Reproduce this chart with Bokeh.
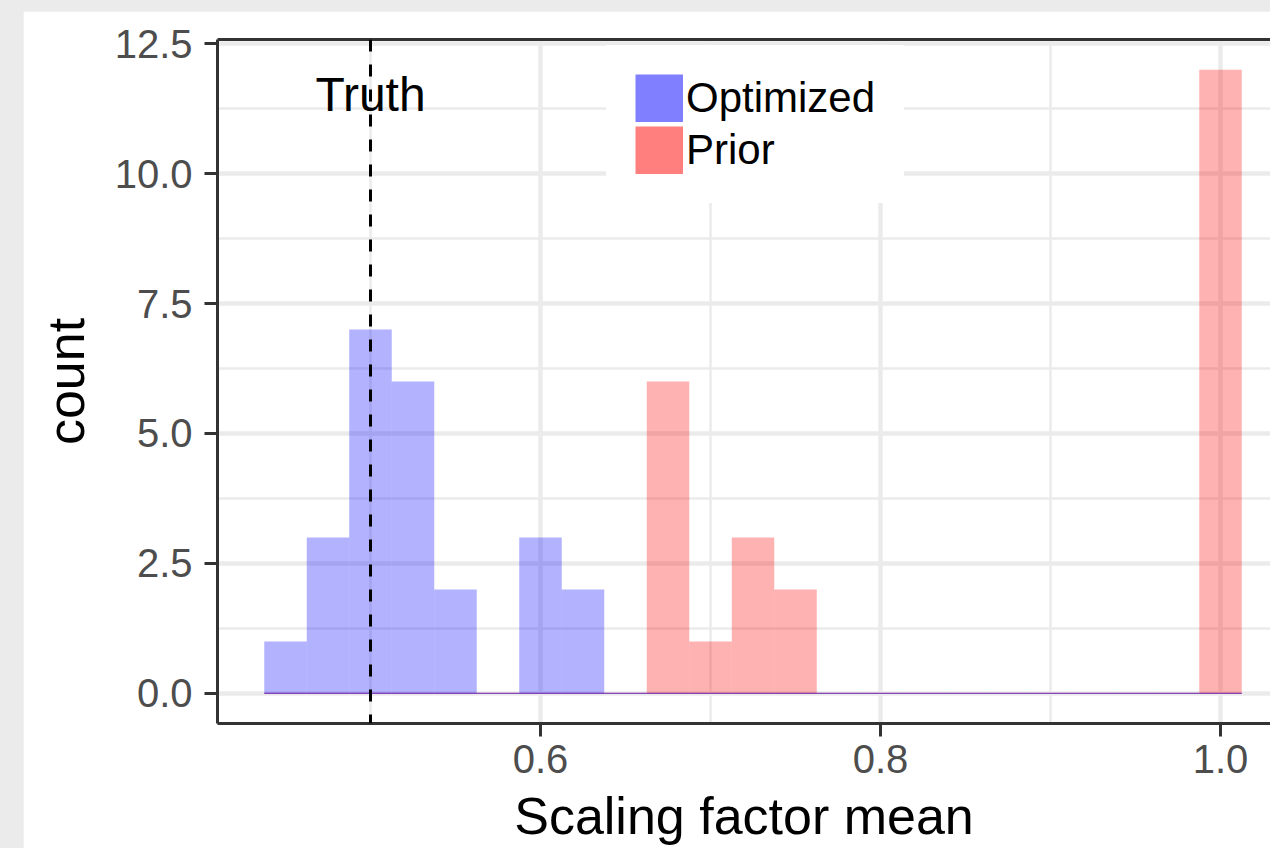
from bokeh.plotting import figure
from bokeh.models import (Range1d, LinearAxis, SingleIntervalTicker, FixedTicker,
                          PrintfTickFormatter, Span, Legend, LegendItem,
                          ColumnDataSource, Spacer)
from bokeh.layouts import row, column
from bokeh.embed import file_html
from bokeh.resources import INLINE
from bokeh.core.properties import value

# ---------------- data ----------------
bin_centers = [0.45, 0.475, 0.5, 0.525, 0.55, 0.575, 0.6, 0.625, 0.65, 0.675,
               0.7, 0.725, 0.75, 0.775, 0.8, 0.825, 0.85, 0.875, 0.9, 0.925,
               0.95, 0.975, 1.0]
optimized_counts = [1, 3, 7, 6, 2, 0, 3, 2, 0, 0, 0, 0, 0, 0, 0, 0, 0, 0, 0, 0, 0, 0, 0]
prior_counts = [0, 0, 0, 0, 0, 0, 0, 0, 0, 6, 1, 3, 2, 0, 0, 0, 0, 0, 0, 0, 0, 0, 12]
bin_width = 0.025
series_names = ["Optimized", "Prior"]
series_colors = ["#0000FF", "#FF0000"]
truth_value = 0.5
truth_label = "Truth"
truth_label_y = 11.52
x_title = "Scaling factor mean"
y_title = "count"

FONT = "Liberation Sans"
NAN = float("nan")

lefts = [c - bin_width / 2 for c in bin_centers]
rights = [c + bin_width / 2 for c in bin_centers]

p = figure(width=1247, height=837, output_backend="svg", toolbar_location=None,
           x_range=Range1d(0.41, 1.0294), y_range=Range1d(-0.58, 12.58),
           min_border_left=194, min_border_right=0, min_border_top=28,
           min_border_bottom=125)
p.background_fill_color = "white"
p.border_fill_color = "white"
p.outline_line_color = None

# axes
p.xaxis.ticker = SingleIntervalTicker(interval=0.2, num_minor_ticks=2)
p.yaxis.ticker = SingleIntervalTicker(interval=2.5, num_minor_ticks=2)
for ax in (p.xaxis[0], p.yaxis[0]):
    ax.formatter = PrintfTickFormatter(format="%.1f")
    ax.axis_line_color = "#333333"
    ax.axis_line_width = 3
    ax.major_tick_line_color = "#333333"
    ax.major_tick_line_width = 3
    ax.major_tick_out = 13
    ax.major_tick_in = 0
    ax.minor_tick_line_color = None
    ax.major_label_text_font = FONT
    ax.major_label_text_font_size = "40px"
    ax.major_label_text_color = "#4D4D4D"
    ax.axis_label_text_font = FONT
    ax.axis_label_text_font_size = "52px"
    ax.axis_label_text_font_style = "normal"
    ax.axis_label_text_color = "black"
p.xaxis.axis_label = x_title
p.yaxis.axis_label = y_title
p.xaxis.major_label_standoff = 8
p.xaxis.axis_label_standoff = 11
p.yaxis.major_label_standoff = 12
p.yaxis.axis_label_standoff = 17

top_axis = LinearAxis(ticker=FixedTicker(ticks=[]), axis_line_color="#333333",
                      axis_line_width=3, major_tick_line_color=None,
                      minor_tick_line_color=None, major_label_text_font_size="0px")
p.add_layout(top_axis, "above")

# grid
for g in (p.xgrid[0], p.ygrid[0]):
    g.grid_line_color = "#EBEBEB"
    g.grid_line_width = 4.5
    g.minor_grid_line_color = "#EBEBEB"
    g.minor_grid_line_width = 2.5

# bars
sources = []
for counts, color in zip([optimized_counts, prior_counts], series_colors):
    src = ColumnDataSource(dict(left=lefts, right=rights, top=counts,
                                bottom=[0] * len(counts),
                                blank=[NAN] * len(counts)))
    sources.append(src)
    p.quad(left="left", right="right", top="top", bottom="bottom", source=src,
           fill_color=color, fill_alpha=0.3, line_color=None)

# bin baselines (zero-height bins show as a thin line), blue on top
for src, color in reversed(list(zip(sources, series_colors))):
    p.segment(x0="left", x1="right", y0="bottom", y1="bottom", source=src,
              line_color=color, line_alpha=0.45, line_width=1.2)

# legend keys: thick butt-capped lines (NaN y -> nothing drawn in the plot)
legend_renderers = []
for name, src, color in zip(series_names, sources, series_colors):
    r = p.line(x="left", y="blank", source=src, line_color=color, line_alpha=0.5,
               line_width=48, line_cap="butt")
    legend_renderers.append((name, r))

# truth line + label
p.add_layout(Span(location=truth_value, dimension="height", line_color="black",
                  line_width=3, line_dash="12 13"))
p.text(x=[truth_value], y=[truth_label_y], text=[truth_label],
       text_font=value(FONT), text_font_size="48px", text_align="center",
       text_baseline="alphabetic", text_color="black")

# legend: a white 29px border gives the key box its padding
legend = Legend(items=[LegendItem(label=n, renderers=[r]) for n, r in legend_renderers],
                location=(389, 520), glyph_width=48, glyph_height=48,
                label_standoff=3, spacing=4, padding=0, margin=0,
                border_line_color="white", border_line_width=29,
                border_line_join="miter",
                background_fill_color="white", background_fill_alpha=1.0,
                label_text_font=FONT, label_text_font_size="42px",
                label_text_color="black", label_height=48)
p.add_layout(legend)

layout = column(Spacer(height=11), row(Spacer(width=23), p))

html = file_html(layout, INLINE)
html = html.replace("</head>",
                    "<style>html, body { background: #EBEBEB; } body { overflow: hidden; }</style></head>", 1)
open("out.html", "w").write(html)
